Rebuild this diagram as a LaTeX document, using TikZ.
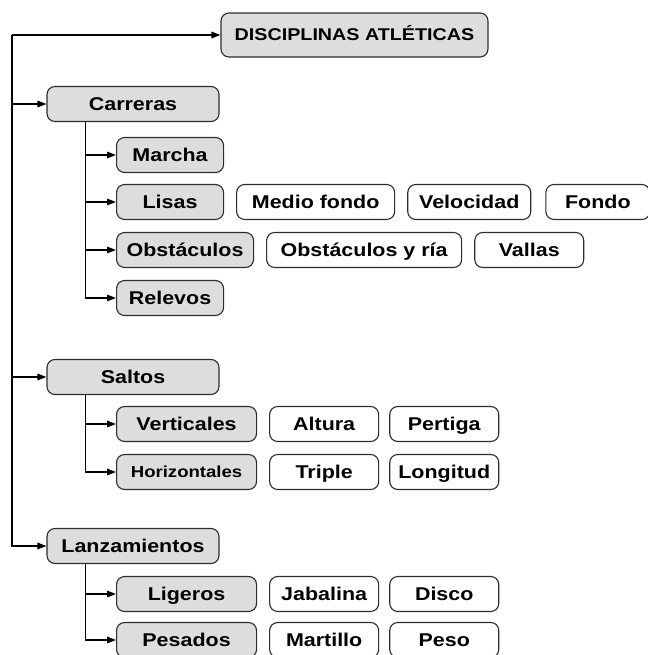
\documentclass[tikz,border=0pt]{standalone}
\usepackage{fontspec}
\usepackage{tikz}
\usepackage{xcolor}
\usetikzlibrary{arrows.meta,positioning}
\newfontfamily\boxfont[FakeStretch=1.16]{Liberation Sans}
\definecolor{boxgrey}{RGB}{222,220,223}
\definecolor{boxline}{RGB}{45,45,45}

\begin{document}
\begin{tikzpicture}[
  x=1pt, y=-1pt,
  node distance=12pt,
  base/.style={draw=boxline, line width=1.1pt, rounded corners=8pt, align=center, minimum height=35pt, inner sep=2pt, text height=13pt, text depth=0pt, font=\boxfont\bfseries\fontsize{18.5}{20}\selectfont},
  head/.style={base, fill=boxgrey, minimum width=267pt, minimum height=44pt, text height=12pt, font=\boxfont\bfseries\fontsize{17}{19}\selectfont},
  group/.style={base, fill=boxgrey, minimum width=172pt},
  kind/.style={base, fill=boxgrey, anchor=west},
  event/.style={base, fill=white, minimum width=109pt},
  arrow/.style={-{Triangle[length=9pt,width=6.5pt]}, line width=1.5pt}
]
\useasboundingbox (0,0) rectangle (647,655);

% top level
\node[head] (title) at (354.5,35) {DISCIPLINAS ATLÉTICAS};
\coordinate (trunk) at (12,35);

% Carreras
\node[group] (carreras) at (133,104) {Carreras};
\node[kind, minimum width=107pt] (marcha) at (116,155) {Marcha};
\node[kind, minimum width=107pt] (lisas) at (116,202) {Lisas};
\node[kind, minimum width=137pt] (obstaculos) at (116,250) {Obstáculos};
\node[kind, minimum width=107pt] (relevos) at (116,298) {Relevos};
\node[event, minimum width=158pt, right=of lisas] (mediofondo) {Medio fondo};
\node[event, minimum width=123pt, right=of mediofondo] (velocidad) {Velocidad};
\node[event, minimum width=104pt, right=14pt of velocidad] (fondo) {Fondo};
\node[event, minimum width=195pt, right=of obstaculos] (obsria) {Obstáculos y ría};
\node[event, right=of obsria] (vallas) {Vallas};

% Saltos
\node[group] (saltos) at (133,377) {Saltos};
\node[kind, minimum width=140pt] (verticales) at (116,424) {Verticales};
\node[kind, minimum width=140pt, text height=11.5pt, font=\boxfont\bfseries\fontsize{16}{18}\selectfont] (horizontales) at (116,472) {Horizontales};
\node[event, right=of verticales] (altura) {Altura};
\node[event, right=10pt of altura] (pertiga) {Pertiga};
\node[event, right=of horizontales] (triple) {Triple};
\node[event, right=10pt of triple] (longitud) {Longitud};

% Lanzamientos
\node[group] (lanzamientos) at (133,546) {Lanzamientos};
\node[kind, minimum width=140pt] (ligeros) at (116,594) {Ligeros};
\node[kind, minimum width=140pt] (pesados) at (116,640) {Pesados};
\node[event, right=of ligeros] (jabalina) {Jabalina};
\node[event, right=10pt of jabalina] (disco) {Disco};
\node[event, right=of pesados] (martillo) {Martillo};
\node[event, right=10pt of martillo] (peso) {Peso};

% connectors
\draw[arrow] (trunk) -- (title);
\draw[arrow] (trunk) |- (carreras);
\draw[arrow] (trunk) |- (saltos);
\draw[arrow] (trunk) |- (lanzamientos);
\foreach \sub in {marcha,lisas,obstaculos,relevos}
  \draw[arrow] ([xshift=39pt]carreras.south west) |- (\sub);
\foreach \sub in {verticales,horizontales}
  \draw[arrow] ([xshift=39pt]saltos.south west) |- (\sub);
\foreach \sub in {ligeros,pesados}
  \draw[arrow] ([xshift=39pt]lanzamientos.south west) |- (\sub);
\end{tikzpicture}
\end{document}
